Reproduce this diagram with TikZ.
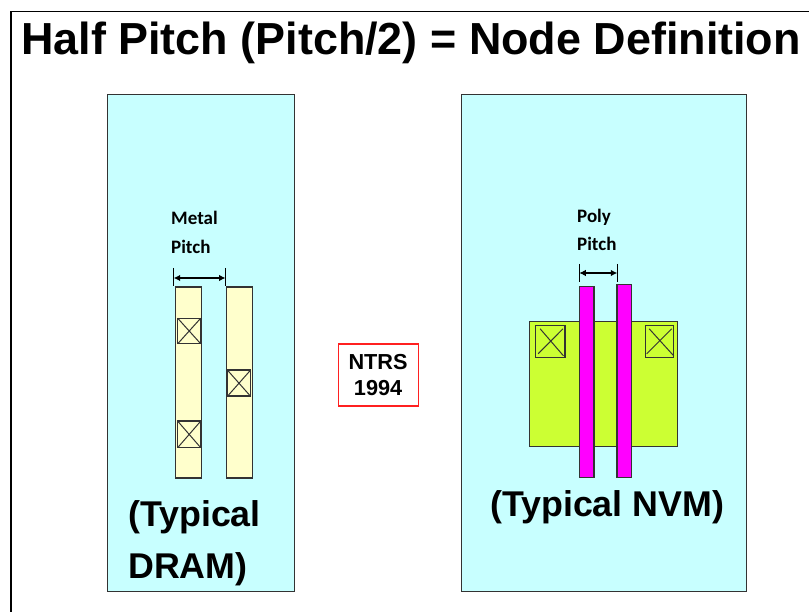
\documentclass[tikz,border=0pt]{standalone}
\usepackage{fontspec}
\setmainfont{Liberation Sans}
\newfontfamily\lblfont{Carlito}
\usetikzlibrary{arrows.meta}
\definecolor{panelc}{HTML}{C8FFFF}
\definecolor{metalc}{HTML}{FFFFCC}
\definecolor{blockc}{HTML}{CCFF33}
\definecolor{polyc}{HTML}{FF00FF}
\definecolor{edgec}{HTML}{333333}
\definecolor{ntrsred}{HTML}{FF2020}
\tikzset{
  shapebox/.style={draw=edgec,line width=1.1pt,inner sep=0pt,outer sep=0pt},
  panelbox/.style={shapebox,fill=panelc,minimum width=#1,minimum height=497pt},
  metalbar/.style={shapebox,fill=metalc,minimum width=#1,minimum height=191pt},
  polybar/.style={shapebox,fill=polyc,minimum width=14.5pt},
  contactbox/.style={shapebox,line width=1.4pt},
  crossline/.style={draw=edgec,line width=1pt},
  dimtick/.style={draw=black,line width=0.9pt},
  dimarrow/.style={draw=black,line width=1.1pt,{Latex[length=6.5pt,width=6.5pt]}-{Latex[length=6.5pt,width=6.5pt]}},
  pitchlabel/.style={anchor=base west,inner sep=0pt,font=\lblfont\bfseries\fontsize{19pt}{21pt}\selectfont,text=black},
  biglabel/.style={anchor=base west,inner sep=0pt,font=\bfseries\fontsize{35.8pt}{38pt}\selectfont,text=black},
}
\begin{document}
\begin{tikzpicture}[x=1pt,y=-1pt]
\useasboundingbox (0,0) rectangle (809,612);
% outer frame, running off the right and bottom edges
\coordinate (frameBL) at (11,612);
\coordinate (frameTL) at (11,11.5);
\coordinate (frameTR) at (809,11.5);
\draw[line width=1.6pt,black] (frameBL) -- (frameTL) -- (frameTR);
\node[anchor=base west,inner sep=0pt,font=\bfseries\fontsize{44.9pt}{48pt}\selectfont,text=black] (title) at (21,55) {Half Pitch (Pitch/2) = Node Definition};
% panels
\node[panelbox=187.5pt] (dramPanel) at (201,342.6) {};
\node[panelbox=285pt] (nvmPanel) at (603.75,342.6) {};
% DRAM metal lines
\node[metalbar=26.7pt] (barA) at (188.4,382.5) {};
\node[metalbar=26pt] (barB) at (239.7,382.5) {};
\foreach \nm/\cx/\cy/\hh in {ctA/189.2/331/25.5,ctB/189.2/434.4/26.5,ctC/239/383.2/26}{
  \node[contactbox,fill=metalc,minimum width=23pt,minimum height=\hh pt] (\nm) at (\cx,\cy) {};
  \draw[crossline] (\nm.north west) -- (\nm.south east) (\nm.north east) -- (\nm.south west);
}
\node[pitchlabel] (metalT) at (171,225) {Metal};
\node[pitchlabel] (metalP) at (171,253.3) {Pitch};
\coordinate (mt1a) at (173.7,268); \coordinate (mt1b) at (173.7,286);
\coordinate (mt2a) at (225.5,268); \coordinate (mt2b) at (225.5,286);
\coordinate (ma) at (173.7,278); \coordinate (mb) at (225.5,278);
\draw[dimtick] (mt1a) -- (mt1b) (mt2a) -- (mt2b);
\draw[dimarrow] (ma) -- (mb);
% NVM active block and contacts
\node[shapebox,fill=blockc,minimum width=148pt,minimum height=125.3pt] (block) at (603.3,383.8) {};
\node[contactbox,fill=blockc,minimum width=29.3pt,minimum height=32pt] (ctL) at (550.3,341.8) {};
\node[contactbox,fill=blockc,minimum width=28pt,minimum height=32pt] (ctR) at (659.7,341.8) {};
\draw[crossline] ([shift={(4.5,3)}]ctL.north west) -- ([shift={(-1.5,-2)}]ctL.south east)
                 ([shift={(-2,3)}]ctL.north east) -- ([shift={(2.5,-4)}]ctL.south west);
\draw[crossline] ([shift={(3.5,3)}]ctR.north west) -- ([shift={(0,-2)}]ctR.south east)
                 ([shift={(-2,3)}]ctR.north east) -- ([shift={(1,-4)}]ctR.south west);
% poly lines
\node[polybar,minimum height=191.7pt] (polyA) at (586.7,382) {};
\node[polybar,minimum height=193pt] (polyB) at (624.2,381.2) {};
\node[pitchlabel] (polyT) at (577,223) {Poly};
\node[pitchlabel] (polyP) at (577,251) {Pitch};
\coordinate (pt1a) at (579.3,264); \coordinate (pt1b) at (579.3,282);
\coordinate (pt2a) at (617.3,264); \coordinate (pt2b) at (617.3,282);
\coordinate (pa) at (579.3,273); \coordinate (pb) at (617.3,273);
\draw[dimtick] (pt1a) -- (pt1b) (pt2a) -- (pt2b);
\draw[dimarrow] (pa) -- (pb);
% centre label
\node[draw=ntrsred,line width=1.1pt,fill=white,minimum width=80pt,minimum height=62pt,inner sep=0pt,align=center,font=\bfseries\fontsize{21.7pt}{26.7pt}\selectfont] (ntrs) at (378.1,375) {NTRS\\1994};
% big labels
\node[biglabel] (typA) at (128,526) {(Typical};
\node[biglabel] (typB) at (128,578) {DRAM)};
\node[biglabel] (typC) at (490,516) {(Typical NVM)};
\end{tikzpicture}
\end{document}
